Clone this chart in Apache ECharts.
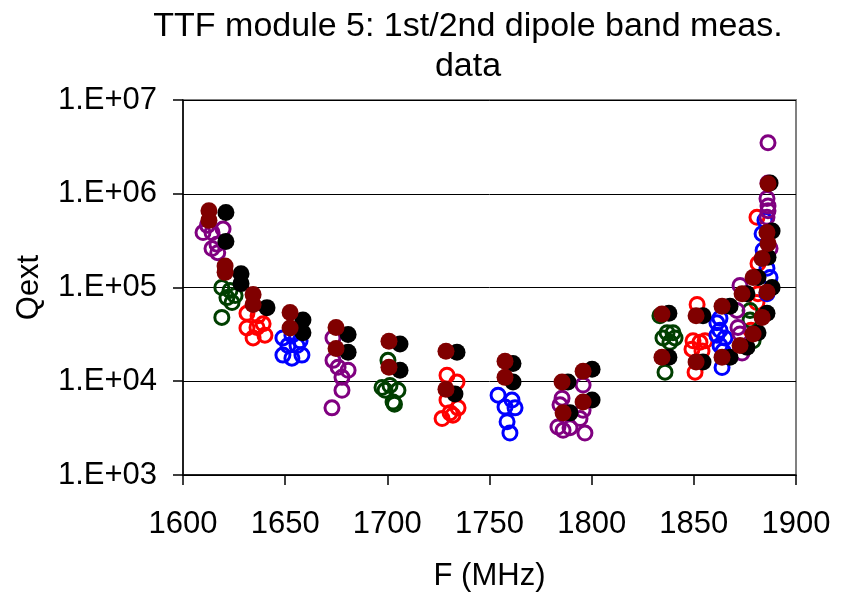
<!DOCTYPE html>
<html>
<head>
<meta charset="utf-8">
<script src="https://cdn.jsdelivr.net/npm/echarts@6/dist/echarts.min.js"></script>
<style>html,body{margin:0;padding:0;background:#fff;}#chart{width:847px;height:599px;}</style>
</head>
<body>
<div id="chart"></div>
<script>
const titleText = 'TTF module 5: 1st/2nd dipole band meas.\ndata';
const xName = 'F (MHz)';
const yName = 'Qext';
const xTicks = [1600, 1650, 1700, 1750, 1800, 1850, 1900];
const yTicks = [1e3, 1e4, 1e5, 1e6, 1e7];

const redOpen = [
  [1631.3,5.3e4],[1636.7,5.0e4],[1631.3,3.7e4],[1636.2,3.75e4],[1639.2,4.1e4],[1634.3,2.9e4],[1640.1,3.1e4],
  [1729.2,1.16e4],[1734.1,9.8e3],[1729.2,6.3e3],[1734.6,5.2e3],[1730.7,4.6e3],[1726.8,4.0e3],[1732.1,4.35e3],
  [1851.6,6.6e4],[1849.6,2.7e4],[1853.0,2.6e4],[1855.5,2.7e4],[1849.1,2.2e4],[1854.0,2.1e4],[1850.6,1.25e4],
  [1880.9,5.6e5],[1881.4,1.8e5],[1881.4,8.6e4],[1880.9,6.9e4],[1878.0,3.5e4]
];
const blueOpen = [
  [1648.9,2.9e4],[1653.3,3.1e4],[1657.3,2.7e4],[1651.4,2.4e4],[1655.8,2.4e4],[1648.9,1.9e4],[1653.3,1.76e4],[1658.2,1.9e4],
  [1754.2,7.1e3],[1761.0,6.3e3],[1757.6,5.3e3],[1762.5,5.2e3],[1758.6,3.7e3],[1760.0,2.8e3],
  [1862.8,4.7e4],[1862.8,3.5e4],[1861.3,3.1e4],[1865.2,2.9e4],[1862.8,2.4e4],[1864.3,2.1e4],[1863.8,1.4e4],[1861.3,4.2e4],
  [1884.8,5.2e5],[1883.4,3.75e5],[1883.9,2.5e5],[1885.8,1.6e5],[1887.3,1.28e5],[1885.8,8.6e4]
];
const greenOpen = [
  [1619.0,1.0e5],[1623.0,9.3e4],[1621.5,7.8e4],[1624.0,6.9e4],[1619.0,4.8e4],[1625.5,8.2e4],
  [1700.3,1.67e4],[1701.3,9.0e3],[1705.2,8.0e3],[1698.9,8.0e3],[1702.8,6.0e3],[1697.4,8.6e3],[1703.5,5.7e3],
  [1833.4,5.0e4],[1836.9,3.3e4],[1839.8,3.3e4],[1834.9,2.9e4],[1840.8,2.9e4],[1838.3,2.6e4],[1835.9,1.25e4],
  [1877.5,5.7e4],[1877.5,4.5e4],[1879.0,2.7e4]
];
const purpleOpen = [
  [1609.8,3.85e5],[1614.2,3.85e5],[1619.6,4.2e5],[1616.6,2.9e5],[1614.2,2.6e5],[1617.0,2.35e5],[1612.0,4.6e5],
  [1673.4,2.9e4],[1673.4,1.67e4],[1675.9,1.41e4],[1680.8,1.31e4],[1677.8,1.1e4],[1677.8,8.0e3],[1672.9,5.2e3],
  [1795.8,9.1e3],[1785.5,6.6e3],[1784.5,5.6e3],[1795.8,4.9e3],[1794.3,4.0e3],[1783.5,3.25e3],[1786.0,3.0e3],[1789.4,3.2e3],[1796.7,2.8e3],
  [1886.3,3.5e6],[1885.8,8.9e5],[1886.3,7.4e5],[1886.3,6.6e5],[1885.8,5.6e5],[1887.3,2.6e5],[1872.6,1.05e5],[1871.1,5.7e4],[1871.6,3.75e4],[1872.6,3.2e4],[1873.6,2.0e4],[1886.3,1.3e6]
];
const blackFilled = [
  [1621.0,6.3e5],[1621.0,3.1e5],[1628.4,1.4e5],[1628.4,1.1e5],
  [1641.1,6.1e4],
  [1658.7,4.5e4],[1658.7,3.3e4],
  [1680.8,3.16e4],[1680.8,2.04e4],
  [1706.2,2.5e4],[1706.2,1.31e4],
  [1734.1,2.04e4],[1733.1,7.3e3],
  [1761.5,1.55e4],[1761.5,9.8e3],
  [1788.4,9.8e3],[1800.2,1.34e4],[1800.2,6.3e3],[1789.4,4.6e3],
  [1837.8,5.3e4],[1837.8,1.8e4],
  [1854.5,5.0e4],[1854.5,1.6e4],
  [1867.7,6.3e4],[1867.7,1.8e4],
  [1888.3,4.0e5],[1888.3,1.0e5],[1885.8,5.3e4],[1881.4,3.3e4],[1876.0,2.3e4],[1876.0,8.6e4],[1881.4,1.28e5],[1886.3,2.1e5],[1887.3,1.3e6]
];
const darkRedFilled = [
  [1612.7,6.6e5],[1612.7,5.2e5],[1620.6,1.7e5],[1620.6,1.45e5],
  [1634.3,8.4e4],[1634.3,6.6e4],
  [1652.4,5.4e4],[1652.4,3.7e4],
  [1674.9,3.75e4],[1674.9,2.24e4],
  [1700.8,2.67e4],[1700.8,1.41e4],
  [1728.7,2.09e4],[1728.7,8.2e3],
  [1757.6,1.63e4],[1757.6,1.1e4],
  [1785.5,9.8e3],[1795.8,1.28e4],[1795.8,6.0e3],[1786.0,4.6e3],
  [1834.4,5.2e4],[1834.4,1.8e4],
  [1851.1,5.0e4],[1851.1,1.6e4],
  [1863.8,6.3e4],[1863.8,1.8e4],
  [1886.3,1.28e6],[1885.8,3.85e5],[1886.3,2.94e5],[1883.4,2.04e5],[1879.0,1.28e5],[1885.8,8.9e4],[1873.6,8.6e4],[1883.4,4.8e4],[1879.0,3.2e4],[1872.6,2.4e4]
];

const FONT = "'Liberation Sans', Arial, sans-serif";

function openSeries(name, data, color) {
  return {
    name, type: 'scatter', data, symbol: 'circle', symbolSize: 14,
    itemStyle: { color: 'rgba(255,255,255,0)', borderColor: color, borderWidth: 3, opacity: 1 },
    silent: true
  };
}
function filledSeries(name, data, color) {
  return {
    name, type: 'scatter', data, symbol: 'circle', symbolSize: 17,
    itemStyle: { color: color, borderWidth: 0, opacity: 1 },
    silent: true
  };
}

const chart = echarts.init(document.getElementById('chart'), null, { renderer: 'canvas' });
chart.setOption({
  animation: false,
  backgroundColor: '#ffffff',
  title: {
    text: titleText,
    left: 463, top: 2, textAlign: 'center',
    textStyle: { fontFamily: FONT, fontSize: 34, fontWeight: 'normal', color: '#000', lineHeight: 40 }
  },
  grid: {
    left: 183, right: 51, top: 100, bottom: 124,
    show: true, borderColor: '#808080', borderWidth: 2, backgroundColor: '#fff'
  },
  xAxis: {
    type: 'value', min: xTicks[0], max: xTicks[xTicks.length - 1], interval: 50,
    name: xName, nameLocation: 'middle', nameGap: 86,
    nameTextStyle: { fontFamily: FONT, fontSize: 31, color: '#000' },
    axisLine: { show: true, onZero: false, lineStyle: { color: '#000', width: 1.5 } },
    axisTick: { show: true, inside: false, length: 10, lineStyle: { color: '#000', width: 1.5 } },
    axisLabel: { fontFamily: FONT, fontSize: 31, color: '#000', margin: 34, formatter: v => String(v) },
    splitLine: { show: false }
  },
  yAxis: {
    type: 'log', logBase: 10, min: yTicks[0], max: yTicks[yTicks.length - 1],
    name: yName, nameLocation: 'middle', nameGap: 138, nameRotate: 90,
    nameTextStyle: { fontFamily: FONT, fontSize: 31, color: '#000' },
    axisLine: { show: true, onZero: false, lineStyle: { color: '#000', width: 1.5 } },
    axisTick: { show: true, inside: false, length: 10, lineStyle: { color: '#000', width: 1.5 } },
    minorTick: { show: false },
    axisLabel: {
      fontFamily: FONT, fontSize: 31, color: '#000', margin: 26,
      formatter: v => '1.E+' + String(Math.round(Math.log10(v))).padStart(2, '0')
    },
    splitLine: { show: true, lineStyle: { color: '#000', width: 1 } }
  },
  series: [
    openSeries('red', redOpen, '#FF0000'),
    openSeries('blue', blueOpen, '#0000FF'),
    openSeries('green', greenOpen, '#003F00'),
    openSeries('purple', purpleOpen, '#800080'),
    filledSeries('black', blackFilled, '#000000'),
    filledSeries('darkred', darkRedFilled, '#800000')
  ]
});
</script>
</body>
</html>
